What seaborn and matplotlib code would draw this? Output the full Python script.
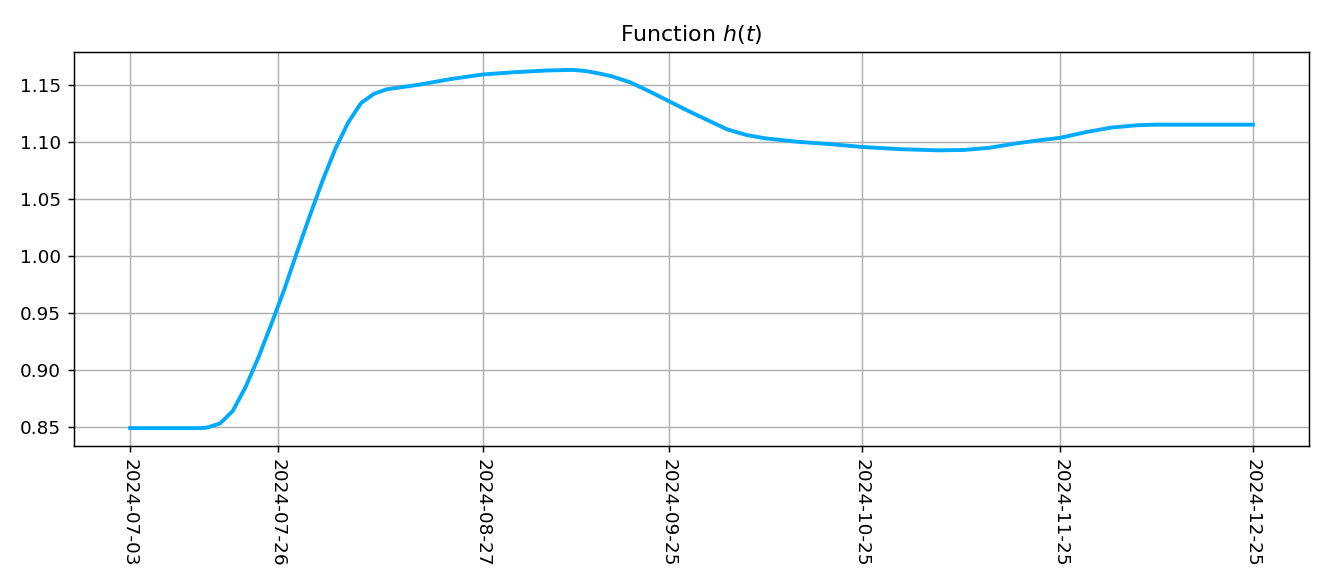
import matplotlib
matplotlib.use("Agg")
import matplotlib.pyplot as plt
import matplotlib.dates as mdates
import pandas as pd
import seaborn as sns

dates = ["2024-07-03", "2024-07-14", "2024-07-15", "2024-07-17", "2024-07-19",
         "2024-07-21", "2024-07-23", "2024-07-25", "2024-07-26", "2024-07-27",
         "2024-07-29", "2024-07-31", "2024-08-02", "2024-08-04", "2024-08-06",
         "2024-08-08", "2024-08-10", "2024-08-12", "2024-08-17", "2024-08-22",
         "2024-08-27", "2024-09-01", "2024-09-06", "2024-09-10", "2024-09-12",
         "2024-09-14", "2024-09-16", "2024-09-19", "2024-09-22", "2024-09-25",
         "2024-09-28", "2024-10-01", "2024-10-04", "2024-10-07", "2024-10-10",
         "2024-10-15", "2024-10-20", "2024-10-25", "2024-10-31", "2024-11-06",
         "2024-11-10", "2024-11-14", "2024-11-18", "2024-11-22", "2024-11-25",
         "2024-11-29", "2024-12-03", "2024-12-07", "2024-12-10", "2024-12-25"]
h_values = [0.849, 0.849, 0.8495, 0.853, 0.864,
            0.885, 0.911, 0.940, 0.955, 0.970,
            1.003, 1.035, 1.066, 1.094, 1.117,
            1.134, 1.142, 1.146, 1.150, 1.155,
            1.159, 1.161, 1.1625, 1.163, 1.162,
            1.160, 1.1575, 1.152, 1.144, 1.1355,
            1.127, 1.119, 1.111, 1.106, 1.103,
            1.100, 1.098, 1.0955, 1.0935, 1.0925,
            1.0928, 1.0948, 1.0985, 1.1015, 1.1035,
            1.1085, 1.1125, 1.1145, 1.115, 1.115]
tick_dates = ["2024-07-03", "2024-07-26", "2024-08-27", "2024-09-25",
              "2024-10-25", "2024-11-25", "2024-12-25"]

df = pd.DataFrame({"t": pd.to_datetime(dates), "h": h_values})

plt.rcParams["font.family"] = ["DejaVu Sans"]
fig, ax = plt.subplots(figsize=(1328 / 133, 577 / 133), dpi=133)
fig.subplots_adjust(left=0.0557, right=0.9857, top=0.9099, bottom=0.227)

sns.lineplot(data=df, x="t", y="h", color="#00aaff", linewidth=2.1, ax=ax)

ax.set_xticks(pd.to_datetime(tick_dates))
ax.xaxis.set_major_formatter(mdates.DateFormatter("%Y-%m-%d"))
plt.setp(ax.get_xticklabels(), rotation=270, ha="center", va="top")
ax.grid(True, color="#b0b0b0", linewidth=0.8)
ax.set_xlabel("")
ax.set_ylabel("")
ax.set_title("Function $h(t)$")

plt.savefig("out.png")
